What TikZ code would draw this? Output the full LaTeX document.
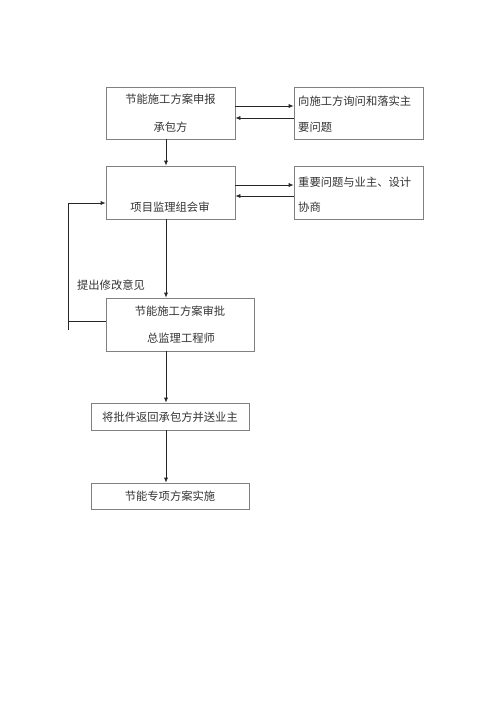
\documentclass[tikz,border=0pt]{standalone}
\usepackage{fontspec}
\newfontfamily\cjk{Noto Sans CJK SC}
\usetikzlibrary{arrows.meta}
\begin{document}
\begin{tikzpicture}[x=1pt,y=-1pt,
  box/.style={draw=black!50, line width=0.7pt, inner sep=0pt},
  txt/.style={font=\cjk\fontsize{11.3}{13}\selectfont, text=black!80, inner sep=0pt, anchor=center},
  ln/.style={line width=0.7pt, draw=black!85},
  arr/.style={ln, -{Latex[length=5pt,width=4pt]}}]
\useasboundingbox (0,0) rectangle (500,707);
% boxes
\node[box, minimum width=129pt, minimum height=52pt] (b1) at (170.5,113) {};
\node[box, minimum width=129pt, minimum height=52pt] (r1) at (358.5,113) {};
\node[box, minimum width=129pt, minimum height=53pt] (b2) at (170.5,192.5) {};
\node[box, minimum width=129pt, minimum height=53pt] (r2) at (358.5,192.5) {};
\node[box, minimum width=148pt, minimum height=53pt] (b3) at (180,324.5) {};
\node[box, minimum width=158pt, minimum height=27pt] (b4) at (170,416.5) {};
\node[box, minimum width=158pt, minimum height=26pt] (b5) at (170,496) {};
% texts
\node[txt] (t1a) at (170.5,99) {节能施工方案申报};
\node[txt] (t1b) at (170.5,127) {承包方};
\node[txt, anchor=west] (tr1a) at (298,101) {向施工方询问和落实主};
\node[txt, anchor=west] (tr1b) at (298,127) {要问题};
\node[txt] (t2) at (170,207) {项目监理组会审};
\node[txt, anchor=west] (tr2a) at (298,182) {重要问题与业主、设计};
\node[txt, anchor=west] (tr2b) at (298,207) {协商};
\node[txt] (t3a) at (180,311) {节能施工方案审批};
\node[txt] (t3b) at (181,338) {总监理工程师};
\node[txt] (t4) at (170,417) {将批件返回承包方并送业主};
\node[txt] (t5) at (170,496) {节能专项方案实施};
\node[txt] (tfb) at (111,285) {提出修改意见};
% horizontal arrows
\draw[arr] ([yshift=7pt]b1.east) -- ([yshift=7pt]r1.west);
\draw[arr] ([yshift=-5pt]r1.west) -- ([yshift=-5pt]b1.east);
\draw[arr] ([yshift=7.5pt]b2.east) -- ([yshift=7.5pt]r2.west);
\draw[arr] ([yshift=-3.5pt]r2.west) -- ([yshift=-3.5pt]b2.east);
% vertical arrows
\draw[arr] ([xshift=-4.5pt]b1.south) -- ([xshift=-4.5pt]b2.north);
\draw[arr] ([xshift=-4.5pt]b2.south) -- ([xshift=-4.5pt]b2.south |- b3.north);
\draw[arr] ([xshift=-14pt]b3.south) -- ([xshift=-14pt]b3.south |- b4.north);
\draw[arr] ([xshift=-4pt]b4.south) -- ([xshift=-4pt]b5.north);
% feedback loop
\coordinate (fbtop) at (68,203);
\coordinate (fbbot) at (68,321);
\coordinate (fbend) at (68,330);
\draw[ln] (fbend) -- (fbtop);
\draw[arr] (fbtop) -- (fbtop -| b2.west);
\draw[ln] ([yshift=3.5pt]b3.west) -- (fbbot);
\end{tikzpicture}
\end{document}
